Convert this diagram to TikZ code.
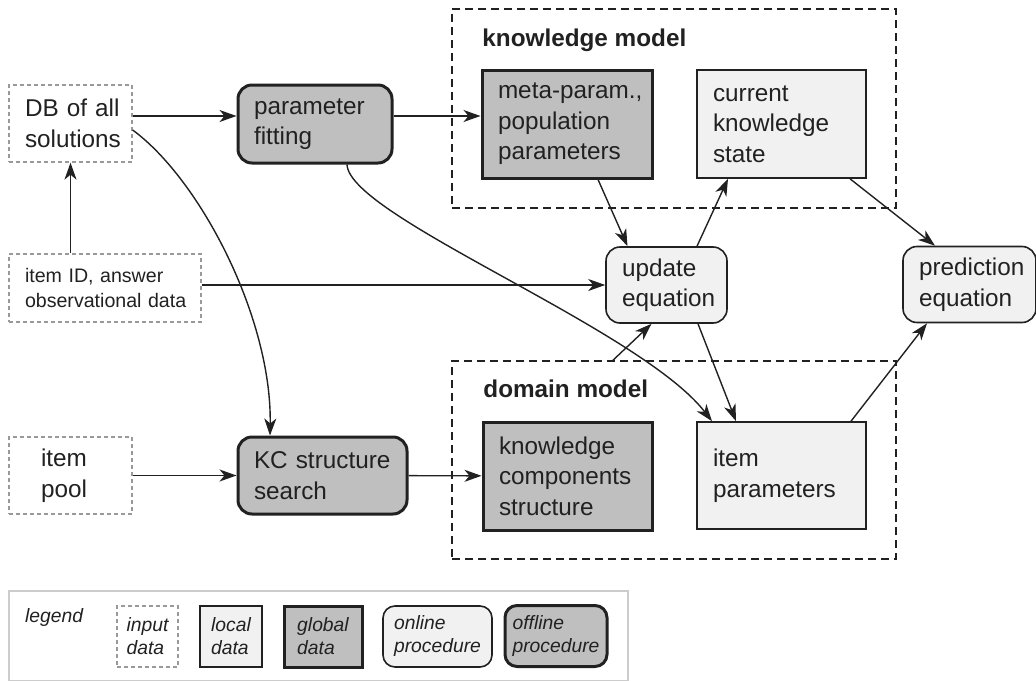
\documentclass[tikz,border=0pt]{standalone}
\usepackage{fontspec}
\setmainfont{Liberation Sans}
\usetikzlibrary{arrows.meta, positioning}

\definecolor{globalfill}{gray}{0.75}
\definecolor{localfill}{gray}{0.945}
\definecolor{inputline}{gray}{0.6}
\definecolor{boxline}{gray}{0.13}
\definecolor{legendline}{gray}{0.8}

\begin{document}
\begin{tikzpicture}[x=1pt, y=-1pt, text=boxline,
    font=\fontsize{24.3}{30.5}\selectfont,
    every node/.style={align=left, inner ysep=0pt},
    input/.style={draw=inputline, dash pattern=on 4pt off 3pt, line width=1.3pt, inner xsep=16pt},
    local/.style={draw=boxline, fill=localfill, line width=1.6pt, inner xsep=16pt},
    global/.style={draw=boxline, fill=globalfill, line width=3pt, inner xsep=16pt},
    online/.style={local, rounded corners=14pt},
    offline/.style={global, rounded corners=14pt},
    group/.style={draw=boxline, dash pattern=on 8pt off 5pt, line width=1.6pt, inner sep=0pt},
    grouplabel/.style={anchor=base west, inner sep=0pt, font=\fontsize{24.3}{30}\selectfont\bfseries},
    small/.style={font=\fontsize{19.6}{25.5}\selectfont},
    key/.style={font=\fontsize{19.3}{23}\selectfont\itshape, inner xsep=5pt, minimum height=61pt},
    conn/.style={-{Stealth[length=17pt, width=12pt, inset=5pt]}, line width=1.4pt, color=boxline}]

  \useasboundingbox (0,0) rectangle (1036,680);

  % the two models
  \node (km) [group, minimum width=444pt, minimum height=199pt] at (674,108.5) {};
  \node (dm) [group, minimum width=444pt, minimum height=198pt] at (674,460) {};
  \node (kmlabel) [grouplabel] at ([shift={(31,38)}]km.north west) {knowledge model};
  \node (dmlabel) [grouplabel] at ([shift={(32,37)}]dm.north west) {domain model};

  % data and procedures
  \node (db) [input, text width=91pt, minimum height=77pt] at (70.5,123.5) {\mbox{DB of all}\\solutions};
  \node (idata) [input, small, text width=160pt, minimum height=68pt] at (105,288) {item ID, answer\\\mbox{observational data}};
  \node (pool) [input, inner xsep=32pt, text width=59pt, minimum height=77pt] at (70.5,475.5) {item\\pool};
  \node (pf) [offline, text width=122pt, minimum height=78pt] at (315,124) {parameter\\fitting};
  \node (kcs) [offline, text width=137pt, minimum height=77pt] at (322.5,475.5) {KC structure\\search};
  \node (meta) [global, text width=138pt, minimum height=108pt] at (567,124) {\mbox{meta-param.,}\\population\\parameters};
  \node (cur) [local, text width=137pt, minimum height=108pt] at (781.5,124) {current\\knowledge\\state};
  \node (upd) [online, text width=89pt, minimum height=76pt] at (666.5,285) {update\\equation};
  \node (pred) [online, text width=101pt, minimum height=76pt] at (969.5,284.5) {prediction\\equation};
  \node (kc) [global, text width=137pt, minimum height=108pt] at (567.5,476) {knowledge\\components\\structure};
  \node (ip) [local, text width=137pt, minimum height=107pt] at (781.5,475.5) {item\\parameters};

  % legend
  \node (legbox) [draw=legendline, line width=1.5pt, minimum width=619pt, minimum height=90pt] at (318.5,636) {};
  \node (legtitle) [anchor=base west, inner sep=0pt, font=\fontsize{19.3}{23}\selectfont\itshape] at (25,622) {legend};
  \node (kinput) [key, input, inner xsep=5pt, minimum width=61pt] at (147.5,636.5) {input\\data};
  \node (klocal) [key, local, inner xsep=5pt, minimum width=62pt] at (231,636.5) {local\\data};
  \node (kglobal) [key, global, inner xsep=5pt, minimum width=78pt] at (323,636.5) {global\\data};
  \node (konline) [key, online, rounded corners=12pt, inner xsep=5pt, minimum width=109pt] at (437.5,636.5) {online\\procedure};
  \node (koffline) [key, offline, rounded corners=12pt, inner xsep=5pt, minimum width=102pt] at (556,636) {offline\\procedure};

  \path [conn]
    (idata.north -| db.south) edge (db.south)
    ([yshift=7.5pt]db.east) edge ([yshift=8pt]pf.west)
    ([yshift=8pt]pf.east) edge ([yshift=8pt]meta.west)
    (idata.east |- upd.west) edge (upd.west)
    (pool) edge (kcs)
    (kcs) edge (kc)
    ([xshift=31pt]meta.south) edge ([xshift=-39pt]upd.north)
    ([xshift=30.5pt]upd.north) edge ([xshift=-53.5pt]cur.south)
    ([xshift=-61pt]dm.north) edge ([xshift=-15pt]upd.south)
    ([xshift=31.5pt]upd.south) edge ([xshift=-45.5pt]ip.north)
    ([xshift=68.5pt]cur.south) edge ([xshift=-34.5pt]pred.north)
    ([xshift=69.5pt]ip.north) edge ([xshift=-42.5pt]pred.south);

  \draw [conn] ([yshift=-6.5pt]db.east) .. controls +(68,50) and +(2,-117) .. ([xshift=-52.5pt]kcs.north);
  \draw [conn] ([xshift=32pt]pf.south) .. controls +(2,52) and +(-72,-93) .. ([xshift=-69.5pt]ip.north);
\end{tikzpicture}
\end{document}
